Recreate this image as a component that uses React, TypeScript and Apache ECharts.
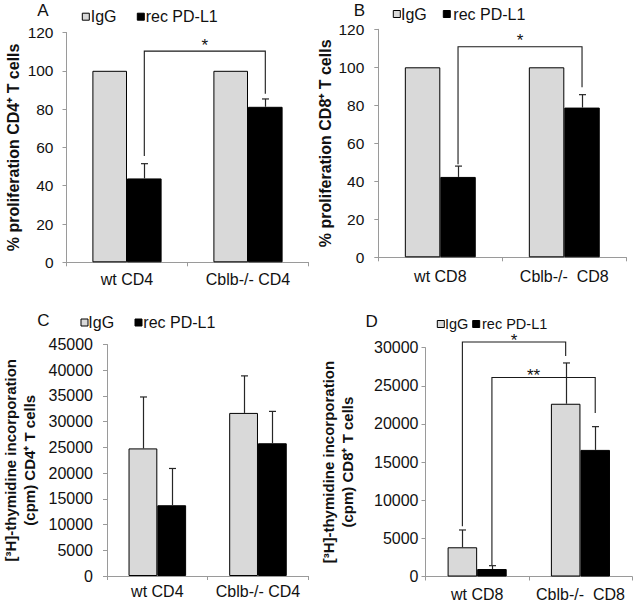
import React, { useEffect, useRef } from "react";
import * as echarts from "echarts";

// ---------- data ----------
const catsA = ["wt CD4", "Cblb-/- CD4"];
const catsB = ["wt CD8", "Cblb-/-  CD8"];
const catsC = ["wt CD4", "Cblb-/- CD4"];
const catsD = ["wt CD8", "Cblb-/-  CD8"];

const igGA = [100, 100];
const recA = [43.8, 81.2];
const recErrA = [51.5, 85.3];

const igGB = [100, 100];
const recB = [42.3, 78.8];
const recErrB = [48.0, 85.6];

const igGC = [24800, 31700];
const igGErrC = [34800, 38900];
const recC = [13750, 25800];
const recErrC = [20900, 32000];

const igGD = [3830, 22650];
const igGErrD = [6100, 28000];
const recD = [980, 16600];
const recErrD = [1420, 19650];

const yMaxA = 120, yStepA = 20;
const yMaxB = 120, yStepB = 20;
const yMaxC = 45000, yStepC = 5000;
const yMaxD = 30000, yStepD = 5000;

// brackets: [fromCat, fromSeries(0=IgG,1=rec), toCat, toSeries, leftEnd, top, rightEnd]
const bracketsA = [[0, 1, 1, 1, 55.5, 110.3, 88]];
const bracketLabelsA = ["*"];
const bracketsB = [[0, 1, 1, 1, 49, 110.8, 89.5]];
const bracketLabelsB = ["*"];
const bracketsD = [
  [0, 0, 1, 0, 6600, 30750, 28900],
  [0, 1, 1, 1, 1500, 26100, 21450],
];
const bracketLabelsD = ["*", "**"];

const seriesNames = ["IgG", "rec PD-L1"];
const panelLetters = ["A", "B", "C", "D"];
const yNames = [
  "% proliferation CD4⁺ T cells",
  "% proliferation CD8⁺ T cells",
  "[³H]-thymidine incorporation\n(cpm) CD4⁺ T cells",
  "[³H]-thymidine incorporation\n(cpm) CD8⁺ T cells",
];

// ---------- styles ----------
const FONT = "'Liberation Sans', Arial, Helvetica, sans-serif";
const GRAY = "#d9d9d9";
const BLACK = "#000000";
const AXIS = "#9a9a9a";
const BAR_FRAC = 0.286;

const panels = [
  {
    cats: catsA, igG: igGA, igGErr: null, rec: recA, recErr: recErrA,
    yMax: yMaxA, yStep: yStepA, brackets: bracketsA, bLabels: bracketLabelsA,
    grid: { left: 66.5, top: 32.5, width: 242, height: 229.8 },
    nameGap: 44, nameFont: 16, yFont: 15.5, yLabelMargin: 13, xLabelMargin: 9, starDy: 6,
    letter: [43, 10], legend: [82.3, 16.7, 90.7, 137.3, 145.7], legendFont: 16,
  },
  {
    cats: catsB, igG: igGB, igGErr: null, rec: recB, recErr: recErrB,
    yMax: yMaxB, yStep: yStepB, brackets: bracketsB, bLabels: bracketLabelsB,
    grid: { left: 378.3, top: 29.3, width: 248, height: 228 },
    nameGap: 43, nameFont: 16, yFont: 15.5, yLabelMargin: 14, xLabelMargin: 11, starDy: 6,
    letter: [359.3, 10], legend: [393.3, 14, 401, 443.3, 453.3], legendFont: 16,
  },
  {
    cats: catsC, igG: igGC, igGErr: igGErrC, rec: recC, recErr: recErrC,
    yMax: yMaxC, yStep: yStepC, brackets: null, bLabels: null,
    grid: { left: 103.3, top: 344.5, width: 205, height: 231.5 },
    nameGap: 68, nameFont: 15, yFont: 16, yLabelMargin: 14, xLabelMargin: 7, starDy: 6,
    letter: [43.3, 320], legend: [81, 322.5, 88.3, 135, 143.3], legendFont: 16,
  },
  {
    cats: catsD, igG: igGD, igGErr: igGErrD, rec: recD, recErr: recErrD,
    yMax: yMaxD, yStep: yStepD, brackets: bracketsD, bLabels: bracketLabelsD,
    grid: { left: 425.5, top: 347.7, width: 206.6, height: 228.8 },
    nameGap: 69, nameFont: 15, yFont: 16, yLabelMargin: 7, xLabelMargin: 10, starDy: 1.5,
    letter: [371.7, 321.7], legend: [437.3, 324, 445, 472.7, 482], legendFont: 14.5,
  },
];

function errorRender(side: number) {
  return (params: any, api: any) => {
    const cat = api.value(0);
    const v = api.value(1);
    const e = api.value(2);
    const band = api.size([1, 0])[0];
    const bw = band * BAR_FRAC;
    const p0 = api.coord([cat, v]);
    const p1 = api.coord([cat, e]);
    const x = Math.round(p0[0] + (side * bw) / 2) + 0.5;
    const st = { stroke: "#262626", lineWidth: 1.2 };
    return {
      type: "group",
      children: [
        { type: "line", shape: { x1: x, y1: p0[1], x2: x, y2: p1[1] }, style: st },
        { type: "line", shape: { x1: x - 3.5, y1: p1[1], x2: x + 3.5, y2: p1[1] }, style: st },
      ],
    };
  };
}

function bracketRender(labels: string[], starDy: number) {
  return (params: any, api: any) => {
    const c0 = api.value(0);
    const s0 = api.value(1);
    const c1 = api.value(2);
    const s1 = api.value(3);
    const vl = api.value(4);
    const vt = api.value(5);
    const vr = api.value(6);
    const band = api.size([1, 0])[0];
    const bw = band * BAR_FRAC;
    const x0 = api.coord([c0, 0])[0] + ((s0 === 0 ? -1 : 1) * bw) / 2;
    const x1 = api.coord([c1, 0])[0] + ((s1 === 0 ? -1 : 1) * bw) / 2;
    const yl = api.coord([c0, vl])[1];
    const yt = api.coord([c0, vt])[1];
    const yr = api.coord([c1, vr])[1];
    const label = labels[params.dataIndex];
    const midX = (x0 + x1) / 2 + (label.length > 1 ? -10 : 0);
    return {
      type: "group",
      children: [
        {
          type: "polyline",
          shape: { points: [[x0, yl], [x0, yt], [x1, yt], [x1, yr]] },
          style: { stroke: "#1a1a1a", lineWidth: 1.1, fill: "none" },
        },
        {
          type: "text",
          style: {
            text: label,
            x: midX,
            y: yt - starDy,
            align: "center",
            verticalAlign: "middle",
            fontSize: 17,
            fontFamily: FONT,
            fill: "#111",
          },
        },
      ],
    };
  };
}

function buildOption() {
  const grids: any[] = [];
  const xAxes: any[] = [];
  const yAxes: any[] = [];
  const series: any[] = [];
  const graphics: any[] = [];

  panels.forEach((p, i) => {
    grids.push({ ...p.grid, containLabel: false });
    xAxes.push({
      type: "category",
      gridIndex: i,
      data: p.cats,
      axisLine: { lineStyle: { color: AXIS, width: 1 } },
      axisTick: { show: true, inside: false, length: 4, lineStyle: { color: AXIS } },
      axisLabel: {
        fontSize: 16,
        fontFamily: FONT,
        color: "#111",
        margin: p.xLabelMargin,
        interval: 0,
        hideOverlap: false,
      },
      splitLine: { show: false },
    });
    yAxes.push({
      type: "value",
      gridIndex: i,
      min: 0,
      max: p.yMax,
      interval: p.yStep,
      axisLine: { show: true, lineStyle: { color: AXIS, width: 1 } },
      axisTick: { show: true, inside: false, length: 4, lineStyle: { color: AXIS } },
      axisLabel: {
        fontSize: p.yFont,
        fontFamily: FONT,
        color: "#111",
        margin: p.yLabelMargin,
        formatter: (v: number) => String(v),
      },
      splitLine: { show: false },
      name: yNames[i],
      nameLocation: "middle",
      nameGap: p.nameGap,
      nameMoveOverlap: false,
      nameTextStyle: {
        fontSize: p.nameFont,
        fontWeight: "bold",
        fontFamily: FONT,
        color: "#111",
        lineHeight: 19,
      },
    });
    series.push({
      type: "bar",
      name: seriesNames[0],
      xAxisIndex: i,
      yAxisIndex: i,
      data: p.igG,
      barWidth: BAR_FRAC * 100 + "%",
      barGap: "0%",
      itemStyle: { color: GRAY, borderColor: BLACK, borderWidth: 1 },
      z: 2,
    });
    series.push({
      type: "bar",
      name: seriesNames[1],
      xAxisIndex: i,
      yAxisIndex: i,
      data: p.rec,
      barWidth: BAR_FRAC * 100 + "%",
      barGap: "0%",
      itemStyle: { color: BLACK, borderColor: BLACK, borderWidth: 1 },
      z: 2,
    });
    if (p.igGErr) {
      series.push({
        type: "custom",
        xAxisIndex: i,
        yAxisIndex: i,
        renderItem: errorRender(-1),
        data: p.igGErr.map((e, k) => [k, p.igG[k], e]),
        encode: { x: 0, y: 2 },
        clip: false,
        z: 3,
      });
    }
    if (p.recErr) {
      series.push({
        type: "custom",
        xAxisIndex: i,
        yAxisIndex: i,
        renderItem: errorRender(1),
        data: p.recErr.map((e, k) => [k, p.rec[k], e]),
        encode: { x: 0, y: 2 },
        clip: false,
        z: 3,
      });
    }
    if (p.brackets && p.bLabels) {
      series.push({
        type: "custom",
        xAxisIndex: i,
        yAxisIndex: i,
        renderItem: bracketRender(p.bLabels, p.starDy),
        data: p.brackets,
        encode: { x: 0, y: 5 },
        clip: false,
        z: 4,
      });
    }

    // panel letter
    graphics.push({
      type: "text",
      x: p.letter[0],
      y: p.letter[1],
      style: {
        text: panelLetters[i],
        align: "center",
        verticalAlign: "middle",
        fontSize: 17,
        fontFamily: FONT,
        fill: "#111",
      },
    });
    // legend
    const [gx, cy, tx1, bx, tx2] = p.legend;
    graphics.push({
      type: "rect",
      shape: { x: gx, y: cy - 3.5, width: 7, height: 7 },
      style: { fill: GRAY, stroke: BLACK, lineWidth: 1 },
    });
    graphics.push({
      type: "text",
      x: tx1,
      y: cy,
      style: {
        text: seriesNames[0],
        align: "left",
        verticalAlign: "middle",
        fontSize: p.legendFont,
        fontFamily: FONT,
        fill: "#111",
      },
    });
    graphics.push({
      type: "rect",
      shape: { x: bx, y: cy - 3.5, width: 7, height: 7 },
      style: { fill: BLACK, stroke: BLACK, lineWidth: 1 },
    });
    graphics.push({
      type: "text",
      x: tx2,
      y: cy,
      style: {
        text: seriesNames[1],
        align: "left",
        verticalAlign: "middle",
        fontSize: p.legendFont,
        fontFamily: FONT,
        fill: "#111",
      },
    });
  });

  return {
    animation: false,
    backgroundColor: "#ffffff",
    textStyle: { fontFamily: FONT },
    grid: grids,
    xAxis: xAxes,
    yAxis: yAxes,
    series,
    graphic: graphics,
  };
}

export default function App() {
  const ref = useRef<HTMLDivElement>(null);
  useEffect(() => {
    if (!ref.current) return;
    const chart = echarts.init(ref.current, undefined, { renderer: "svg" });
    chart.setOption(buildOption() as any);
    return () => {
      chart.dispose();
    };
  }, []);
  return (
    <div
      ref={ref}
      style={{ position: "fixed", left: 0, top: 0, width: 640, height: 608, background: "#fff" }}
    />
  );
}
